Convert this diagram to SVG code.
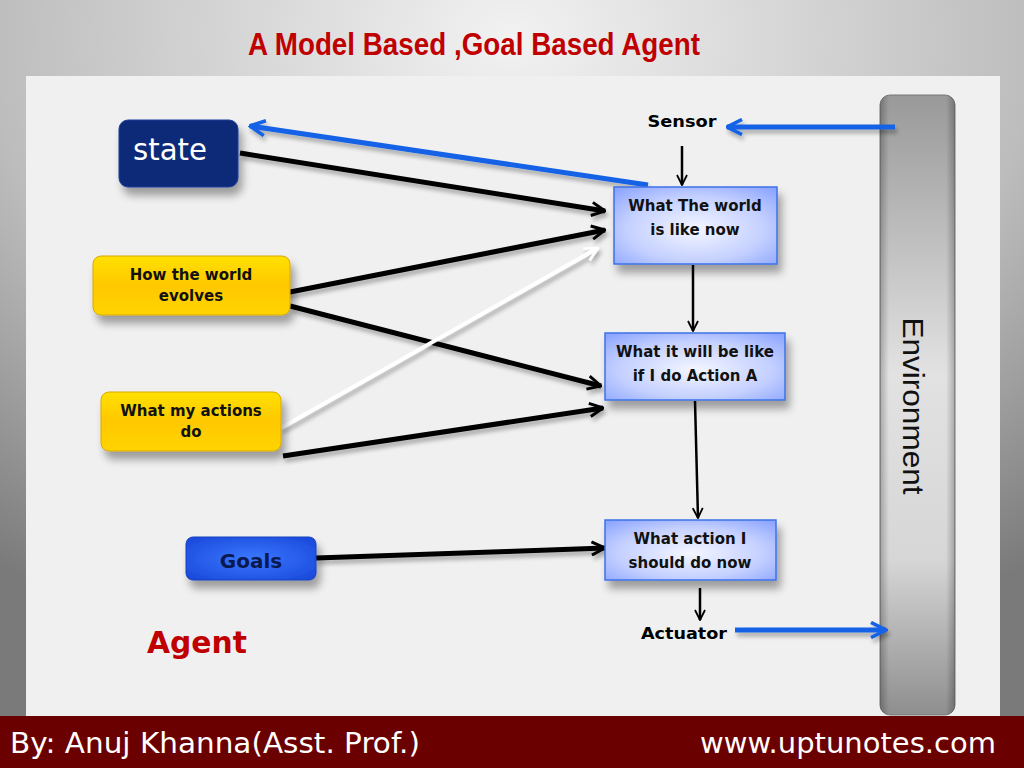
<svg xmlns="http://www.w3.org/2000/svg" width="1024" height="768" viewBox="0 0 1024 768">
<defs>
<radialGradient id="bg" cx="0.5" cy="0.05" r="0.85">
<stop offset="0" stop-color="#f2f2f2"/>
<stop offset="0.6" stop-color="#bdbdbd"/>
<stop offset="1" stop-color="#7a7a7a"/>
</radialGradient>
<radialGradient id="boxg" cx="0.5" cy="0.55" r="0.7">
<stop offset="0" stop-color="#f4f6ff"/>
<stop offset="0.6" stop-color="#c4d0ff"/>
<stop offset="1" stop-color="#8ea6ff"/>
</radialGradient>
<linearGradient id="yel" x1="0" y1="0" x2="0" y2="1">
<stop offset="0" stop-color="#ffe000"/>
<stop offset="0.5" stop-color="#ffc800"/>
<stop offset="1" stop-color="#ffd400"/>
</linearGradient>
<radialGradient id="goalg" cx="0.5" cy="0.5" r="0.7">
<stop offset="0" stop-color="#3a78ff"/>
<stop offset="1" stop-color="#1846d8"/>
</radialGradient>
<linearGradient id="envg" x1="0" y1="0" x2="0" y2="1">
<stop offset="0" stop-color="#999999"/>
<stop offset="0.45" stop-color="#e2e2e2"/>
<stop offset="0.75" stop-color="#d6d6d6"/>
<stop offset="1" stop-color="#8e8e8e"/>
</linearGradient>
<linearGradient id="envh" x1="0" y1="0" x2="1" y2="0">
<stop offset="0" stop-color="#000" stop-opacity="0.25"/>
<stop offset="0.12" stop-color="#000" stop-opacity="0"/>
<stop offset="0.88" stop-color="#000" stop-opacity="0"/>
<stop offset="1" stop-color="#000" stop-opacity="0.25"/>
</linearGradient>
<filter id="sh" x="-20%" y="-20%" width="150%" height="170%">
<feGaussianBlur in="SourceAlpha" stdDeviation="4"/>
<feOffset dx="4" dy="8" result="b"/>
<feComponentTransfer><feFuncA type="linear" slope="0.35"/></feComponentTransfer>
<feMerge><feMergeNode/><feMergeNode in="SourceGraphic"/></feMerge>
</filter>
<filter id="lsh" filterUnits="userSpaceOnUse" x="0" y="0" width="1024" height="768">
<feGaussianBlur in="SourceAlpha" stdDeviation="2"/>
<feOffset dx="2" dy="4"/>
<feComponentTransfer><feFuncA type="linear" slope="0.3"/></feComponentTransfer>
<feMerge><feMergeNode/><feMergeNode in="SourceGraphic"/></feMerge>
</filter>
<marker id="ab" viewBox="0 0 12 12" refX="11" refY="6" markerWidth="16" markerHeight="16" markerUnits="userSpaceOnUse" orient="auto">
<path d="M1,1 L11,6 L1,11" fill="none" stroke="#000" stroke-width="2.2"/>
</marker>
<marker id="abt" viewBox="0 0 12 12" refX="11" refY="6" markerWidth="12" markerHeight="12" markerUnits="userSpaceOnUse" orient="auto">
<path d="M1,1 L11,6 L1,11" fill="none" stroke="#000" stroke-width="1.8"/>
</marker>
<marker id="aw" viewBox="0 0 12 12" refX="11" refY="6" markerWidth="16" markerHeight="16" markerUnits="userSpaceOnUse" orient="auto">
<path d="M1,1 L11,6 L1,11" fill="none" stroke="#fff" stroke-width="2"/>
</marker>
<marker id="abl" viewBox="0 0 12 12" refX="11" refY="6" markerWidth="18" markerHeight="18" markerUnits="userSpaceOnUse" orient="auto">
<path d="M1,1 L11,6 L1,11" fill="none" stroke="#1462e6" stroke-width="2.4"/>
</marker>
</defs>
<style>
.blk{stroke:#000;stroke-width:5;fill:none;marker-end:url(#ab)}
.thin{stroke:#000;stroke-width:2.5;fill:none;marker-end:url(#abt)}
.blue{stroke:#1462e6;stroke-width:5;fill:none;marker-end:url(#abl)}
.wht{stroke:#fff;stroke-width:4;fill:none;marker-end:url(#aw)}
.bx{fill:url(#boxg);stroke:#3d72e8;stroke-width:1.5}
.bt{font-family:"DejaVu Sans",sans-serif;font-weight:bold;font-size:15px;fill:#111;text-anchor:middle}
.lb{font-family:"DejaVu Sans",sans-serif;font-weight:bold;font-size:16px;fill:#000;text-anchor:middle}
</style>
<rect x="0" y="0" width="1024" height="768" fill="url(#bg)"/>
<rect x="26" y="76" width="974" height="640" fill="#f0f0f0"/>
<rect x="0" y="716" width="1024" height="52" fill="#6b0000"/>
<text x="474" y="55" font-family="'Liberation Sans',Arial,sans-serif" font-weight="bold" font-size="32" fill="#c00000" text-anchor="middle" textLength="452" lengthAdjust="spacingAndGlyphs">A Model Based ,Goal Based Agent</text>
<text x="10" y="753" font-family="'DejaVu Sans',sans-serif" font-size="28" fill="#fff" textLength="410" lengthAdjust="spacingAndGlyphs">By: Anuj Khanna(Asst. Prof.)</text>
<text x="996" y="753" font-family="'DejaVu Sans',sans-serif" font-size="28" fill="#fff" text-anchor="end" textLength="296" lengthAdjust="spacingAndGlyphs">www.uptunotes.com</text>
<g id="environment">
<rect x="880" y="95" width="75" height="620" rx="10" fill="url(#envg)" stroke="#777" stroke-width="1"/>
<rect x="880" y="95" width="75" height="620" rx="10" fill="url(#envh)"/>
<text transform="translate(903,406) rotate(90)" font-family="'Liberation Sans',Arial,sans-serif" font-size="30" fill="#111" text-anchor="middle" textLength="177" lengthAdjust="spacingAndGlyphs">Environment</text>
</g>
<g id="connectors">
<line x1="895" y1="127" x2="727" y2="127" class="blue" filter="url(#lsh)"/>
<line x1="735" y1="630" x2="886" y2="630" class="blue" filter="url(#lsh)"/>
<line x1="648" y1="185" x2="250" y2="126" class="blue" filter="url(#lsh)"/>
<line x1="682" y1="146" x2="682" y2="185" class="thin"/>
<line x1="693" y1="265" x2="693" y2="331" class="thin"/>
<line x1="695" y1="401" x2="698" y2="518" class="thin"/>
<line x1="700" y1="588" x2="700" y2="620" class="thin"/>
<line x1="240" y1="153" x2="605" y2="211" class="blk" filter="url(#lsh)"/>
<line x1="285" y1="293" x2="605" y2="230" class="blk" filter="url(#lsh)"/>
<line x1="290" y1="306" x2="601" y2="386" class="blk" filter="url(#lsh)"/>
<line x1="281" y1="428" x2="598" y2="248" class="wht" filter="url(#lsh)"/>
<line x1="283" y1="456" x2="603" y2="408" class="blk" filter="url(#lsh)"/>
<line x1="316" y1="558" x2="605" y2="548" class="blk" filter="url(#lsh)"/>
</g>
<g id="state">
<rect x="119" y="120" width="119" height="67" rx="9" fill="#0b2a78" stroke="#1d3f9a" stroke-width="1" filter="url(#sh)"/>
<text x="133" y="160" font-family="'DejaVu Sans',sans-serif" font-size="30" fill="#fff" textLength="74" lengthAdjust="spacingAndGlyphs">state</text>
</g>
<g id="sensor">
<text x="682" y="127" class="lb" textLength="69" lengthAdjust="spacingAndGlyphs">Sensor</text>
</g>
<g id="world-now">
<rect x="614" y="187" width="163" height="77" class="bx" filter="url(#sh)"/>
<text x="695" y="211" class="bt">What The world</text>
<text x="695" y="235" class="bt">is like now</text>
</g>
<g id="will-be">
<rect x="605" y="333" width="180" height="67" class="bx" filter="url(#sh)"/>
<text x="695" y="357" class="bt">What it will be like</text>
<text x="695" y="381" class="bt">if I do Action A</text>
</g>
<g id="action-now">
<rect x="605" y="520" width="171" height="60" class="bx" filter="url(#sh)"/>
<text x="690" y="544" class="bt">What action I</text>
<text x="690" y="568" class="bt">should do now</text>
</g>
<g id="actuator">
<text x="684" y="639" class="lb" textLength="86" lengthAdjust="spacingAndGlyphs">Actuator</text>
</g>
<g id="evolves">
<rect x="93" y="256" width="197" height="59" rx="8" fill="url(#yel)" stroke="#d8a800" stroke-width="1" filter="url(#sh)"/>
<text x="191" y="280" class="bt">How the world</text>
<text x="191" y="301" class="bt">evolves</text>
</g>
<g id="actions-do">
<rect x="101" y="392" width="180" height="59" rx="8" fill="url(#yel)" stroke="#d8a800" stroke-width="1" filter="url(#sh)"/>
<text x="191" y="416" class="bt">What my actions</text>
<text x="191" y="437" class="bt">do</text>
</g>
<g id="goals">
<rect x="186" y="537" width="130" height="43" rx="7" fill="url(#goalg)" stroke="#1540c0" stroke-width="1" filter="url(#sh)"/>
<text x="251" y="568" font-family="'DejaVu Sans',sans-serif" font-weight="600" font-size="20" fill="#0a1a50" text-anchor="middle">Goals</text>
</g>
<text x="147" y="653" font-family="'DejaVu Sans',sans-serif" font-weight="bold" font-size="30" fill="#c00000" textLength="100" lengthAdjust="spacingAndGlyphs">Agent</text>
</svg>
